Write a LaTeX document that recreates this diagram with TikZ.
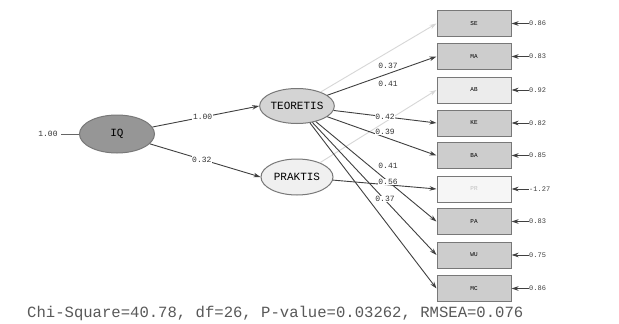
\documentclass[tikz,border=0pt]{standalone}
\usepackage{fontspec}
\setmonofont{Liberation Mono}
\usetikzlibrary{arrows.meta,shapes.geometric}
\definecolor{boxfill}{RGB}{205,205,205}
\definecolor{boxlight}{RGB}{236,236,236}
\definecolor{boxwhite}{RGB}{246,246,246}
\definecolor{edgegray}{RGB}{120,120,120}
\definecolor{iqfill}{RGB}{150,150,150}
\definecolor{teofill}{RGB}{212,212,212}
\definecolor{prafill}{RGB}{240,240,240}
\definecolor{faint}{RGB}{215,215,215}
\begin{document}
\begin{tikzpicture}[x=1pt,y=-1pt,
  obsbox/.style={draw=edgegray,line width=1pt,minimum width=74pt,minimum height=26pt,inner sep=0pt,font=\ttfamily\fontsize{6}{6}\selectfont},
  latent/.style={ellipse,draw=edgegray,line width=1pt,inner sep=0pt,font=\ttfamily\fontsize{11}{11}\selectfont},
  path/.style={draw=black!75,line width=0.9pt,-{Stealth[length=7pt,width=4.5pt]}},
  fpath/.style={draw=faint,line width=0.9pt,-{Stealth[length=7pt,width=4.5pt]}},
  lab/.style={font=\ttfamily\fontsize{8}{8}\selectfont,fill=white,inner sep=0.6pt,text=black!80},
  errlab/.style={font=\ttfamily\fontsize{7}{7}\selectfont,anchor=west,inner sep=0.5pt,text=black!75}]
\useasboundingbox (0,0) rectangle (619,324);
\fill[white] (0,0) rectangle (619,324);
% latent variables
\node[latent,fill=iqfill,minimum width=75pt,minimum height=38pt] (IQ) at (117,134) {IQ};
\node[latent,fill=teofill,minimum width=72pt,minimum height=35pt] (T) at (297,106) {TEORETIS};
\node[latent,fill=prafill,minimum width=72pt,minimum height=36pt] (P) at (297,177) {PRAKTIS};
% observed variables
\node[obsbox,fill=boxfill] (SE) at (474,23.5) {SE};
\node[obsbox,fill=boxfill] (MA) at (474,56.5) {MA};
\node[obsbox,fill=boxlight] (AB) at (474,90) {AB};
\node[obsbox,fill=boxfill] (KE) at (474,123) {KE};
\node[obsbox,fill=boxfill] (BA) at (474,155.5) {BA};
\node[obsbox,fill=boxwhite,text=black!25] (X6) at (474,189) {PR};
\node[obsbox,fill=boxfill] (PA) at (474,221.5) {PA};
\node[obsbox,fill=boxfill] (WU) at (474,255) {WU};
\node[obsbox,fill=boxfill] (MC) at (474,288.5) {MC};
% IQ variance
\node[font=\ttfamily\fontsize{8}{8}\selectfont,text=black!80] (ivar) at (48,134) {1.00};
\draw[draw=black!60,line width=0.8pt] (ivar.east) -- (IQ.west);
% structural paths
\draw[path] (IQ) -- (T.west) node[lab,pos=0.47] {1.00};
\draw[path] (IQ) -- (P.west) node[lab,pos=0.47] {0.32};
% faint paths
\draw[fpath] (T) -- (SE.west);
\draw[fpath] (P) -- (AB.west);
% loadings
\draw[path] (T) -- (MA.west);
\draw[path] (T) -- (KE.west);
\draw[path] (T) -- (BA.west);
\draw[path] (T) -- (PA.west);
\draw[path] (T) -- (WU.west);
\draw[path] (T) -- (MC.west);
\draw[path] (P) -- (X6.west);
\node[lab,fill=none] at (388,66) {0.37};
\node[lab] at (388,84) {0.41};
\node[lab] at (385,117) {0.42};
\node[lab] at (385,132) {0.39};
\node[lab] at (388,166) {0.41};
\node[lab] at (388,182) {0.56};
\node[lab] at (385,199) {0.37};
% error terms
\foreach \b/\v in {SE/0.86,MA/0.83,AB/0.92,KE/0.82,BA/0.85,X6/-1.27,PA/0.83,WU/0.75,MC/0.86}{
  \coordinate (e\b) at ([xshift=17pt]\b.east);
  \draw[path] (e\b) -- (\b.east);
  \node[errlab] at (e\b) {\v};
}
% fit statistics
\node[font=\ttfamily\fontsize{15.6}{15.6}\selectfont,text=black!65,anchor=west,inner sep=0pt] (fit) at (27,313) {Chi-Square=40.78, df=26, P-value=0.03262, RMSEA=0.076};
\end{tikzpicture}
\end{document}
